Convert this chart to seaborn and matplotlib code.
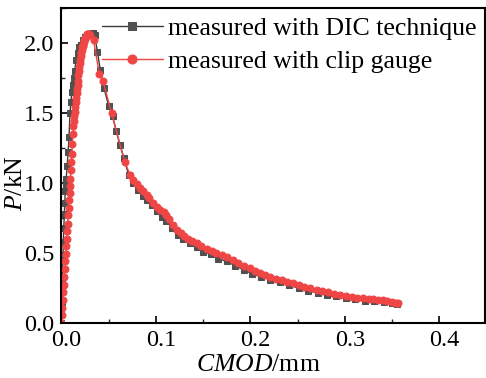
import matplotlib
matplotlib.use("Agg")
import matplotlib.pyplot as plt
import matplotlib.transforms as mtransforms
import seaborn as sns
import pandas as pd
from matplotlib.ticker import MultipleLocator

# DIC technique (grey squares)
dic_x = [0.0, 0.0005, 0.001, 0.0015, 0.002, 0.0025, 0.003, 0.0035, 0.004, 0.0045, 0.005,
         0.006, 0.007, 0.008, 0.009, 0.010, 0.011, 0.012, 0.013, 0.014, 0.0155, 0.017,
         0.019, 0.021, 0.023, 0.0247, 0.027, 0.030, 0.0334, 0.035, 0.038, 0.041, 0.045,
         0.050, 0.054, 0.058, 0.062, 0.066, 0.071, 0.076, 0.081, 0.086, 0.091, 0.096,
         0.101, 0.106, 0.111, 0.117, 0.123, 0.129, 0.136, 0.143, 0.150, 0.158, 0.166,
         0.175, 0.184, 0.193, 0.202, 0.211, 0.221, 0.231, 0.241, 0.251, 0.261, 0.271,
         0.281, 0.291, 0.301, 0.311, 0.321, 0.331, 0.341, 0.350, 0.355]
dic_y = [0.0, 0.15, 0.30, 0.45, 0.58, 0.68, 0.78, 0.86, 0.94, 0.99, 1.03,
         1.12, 1.22, 1.33, 1.50, 1.58, 1.65, 1.70, 1.75, 1.80, 1.88, 1.93,
         1.97, 1.99, 2.02, 2.045, 2.06, 2.065, 2.07, 2.06, 1.94, 1.81, 1.68,
         1.55, 1.48, 1.37, 1.27, 1.18, 1.06, 1.00, 0.95, 0.91, 0.88, 0.84,
         0.80, 0.76, 0.73, 0.68, 0.63, 0.60, 0.57, 0.54, 0.51, 0.49, 0.46,
         0.44, 0.41, 0.38, 0.35, 0.33, 0.31, 0.29, 0.27, 0.25, 0.23, 0.215,
         0.20, 0.19, 0.18, 0.17, 0.16, 0.155, 0.15, 0.14, 0.135]

# clip gauge (red circles)
clip_x = [0.0, 0.0005, 0.001, 0.0015, 0.002, 0.0025, 0.003, 0.0035, 0.004, 0.0045,
          0.005, 0.0055, 0.006, 0.0065, 0.007, 0.0075, 0.008, 0.0085, 0.009, 0.0095,
          0.010, 0.0105, 0.011, 0.0115, 0.012, 0.0125, 0.013, 0.0135, 0.014, 0.0145,
          0.015, 0.0155, 0.016, 0.0165, 0.017, 0.0175, 0.018, 0.0185, 0.019, 0.0195,
          0.020, 0.0205, 0.021, 0.0215, 0.022, 0.0225, 0.023, 0.0235, 0.024, 0.0245,
          0.025, 0.0255, 0.026, 0.0265, 0.027, 0.0275, 0.028, 0.0285, 0.029, 0.030,
          0.034, 0.040, 0.044, 0.053, 0.067, 0.0726, 0.076, 0.080, 0.083, 0.086, 0.090,
          0.093, 0.097, 0.101, 0.104, 0.108, 0.111, 0.114, 0.118, 0.122, 0.126, 0.130,
          0.134, 0.138, 0.143, 0.148, 0.154, 0.159, 0.164, 0.170, 0.175, 0.181, 0.187,
          0.193, 0.200, 0.205, 0.210, 0.215, 0.221, 0.227, 0.233, 0.239, 0.245, 0.251,
          0.257, 0.263, 0.270, 0.276, 0.282, 0.288, 0.295, 0.301, 0.307, 0.313, 0.319,
          0.325, 0.330, 0.335, 0.340, 0.345, 0.350, 0.354, 0.356]
clip_y = [0.0, 0.055, 0.11, 0.165, 0.22, 0.275, 0.33, 0.385, 0.44, 0.495,
          0.55, 0.60, 0.66, 0.71, 0.77, 0.82, 0.88, 0.93, 0.98, 1.03,
          1.09, 1.15, 1.21, 1.28, 1.35, 1.41, 1.44, 1.48, 1.51, 1.54,
          1.58, 1.61, 1.64, 1.67, 1.70, 1.73, 1.77, 1.80, 1.83, 1.86,
          1.88, 1.91, 1.93, 1.95, 1.97, 1.98, 1.99, 2.005, 2.02, 2.03,
          2.04, 2.045, 2.05, 2.055, 2.06, 2.063, 2.065, 2.065, 2.065, 2.06,
          2.02, 1.78, 1.73, 1.50, 1.15, 1.06, 1.02, 0.99, 0.965, 0.94, 0.914,
          0.89, 0.86, 0.83, 0.81, 0.79, 0.77, 0.74, 0.70, 0.664, 0.64, 0.62,
          0.60, 0.585, 0.57, 0.55, 0.53, 0.515, 0.50, 0.485, 0.47, 0.45, 0.43,
          0.41, 0.39, 0.375, 0.36, 0.345, 0.33, 0.317, 0.305, 0.295, 0.284, 0.272,
          0.26, 0.248, 0.236, 0.227, 0.218, 0.209, 0.20, 0.194, 0.188, 0.182, 0.176,
          0.173, 0.170, 0.167, 0.164, 0.158, 0.152, 0.146, 0.14]

labels = ["measured with DIC technique", "measured with clip gauge"]
x_ticks = [0.0, 0.1, 0.2, 0.3, 0.4]
y_ticks = [0.0, 0.5, 1.0, 1.5, 2.0]

sns.set_theme(style="white")
plt.rcParams['font.family'] = ['Liberation Serif', 'DejaVu Serif']
plt.rcParams['mathtext.fontset'] = 'custom'
plt.rcParams['mathtext.rm'] = 'Liberation Serif'
plt.rcParams['mathtext.it'] = 'Liberation Serif:italic'

df_dic = pd.DataFrame({"x": dic_x, "y": dic_y})
df_clip = pd.DataFrame({"x": clip_x, "y": clip_y})

fig = plt.figure(figsize=(4.86, 3.78), dpi=100)
ax = fig.add_axes([0.1265, 0.1455, 0.871, 0.833])

sns.lineplot(data=df_dic, x="x", y="y", ax=ax, sort=False, estimator=None,
             color="#3a3a3a", lw=1.0, marker="s", markersize=4.5,
             markerfacecolor="#505050", markeredgecolor="#505050",
             label=labels[0])
sns.lineplot(data=df_clip, x="x", y="y", ax=ax, sort=False, estimator=None,
             color="#f04545", lw=1.0, marker="o", markersize=5,
             markerfacecolor="#f04545", markeredgecolor="#f04545",
             label=labels[1])

ax.set_xlim(0.0, 0.448)
ax.set_ylim(0.0, 2.25)
ax.set_xticks(x_ticks)
ax.set_yticks(y_ticks)
ax.set_xticklabels([f"{t:.1f}" for t in x_ticks])
ax.set_yticklabels([f"{t:.1f}" for t in y_ticks])
ax.xaxis.set_minor_locator(MultipleLocator(0.05))
ax.yaxis.set_minor_locator(MultipleLocator(0.25))
ax.tick_params(which="major", direction="in", length=5, width=1.2, labelsize=17.5,
               colors="black", top=False, right=False, bottom=True, left=True, pad=5)
ax.tick_params(which="minor", direction="in", length=3, width=1.0,
               top=False, right=False, bottom=True, left=True)
offset = mtransforms.ScaledTranslation(5 / 100, 0, fig.dpi_scale_trans)
for lab in ax.get_xticklabels():
    lab.set_transform(lab.get_transform() + offset)
for s in ax.spines.values():
    s.set_color("black")
    s.set_linewidth(1.5)

ax.set_xlabel(r"$\mathit{CMOD}$/mm", fontsize=18.5, color="black")
ax.set_ylabel(r"$\mathit{P}$/kN", fontsize=18.5, color="black")
ax.xaxis.set_label_coords((258 - 61.4) / 423.6, (323 - 365) / 315)
ax.yaxis.set_label_coords((16 - 61.4) / 423.6, (323 - 183) / 315)
ax.xaxis.label.set_verticalalignment("center")
ax.yaxis.label.set_verticalalignment("center")

leg = ax.legend(loc="upper left", frameon=False, fontsize=18.5, handlelength=2.37,
                labelspacing=0.4, handletextpad=0.2, borderaxespad=0.0, borderpad=0.0,
                bbox_to_anchor=((102 - 61.4) / 423.6, (323 - 17) / 315), markerscale=1.3)
for t in leg.get_texts():
    t.set_color("black")

fig.savefig("out.png", dpi=100)
